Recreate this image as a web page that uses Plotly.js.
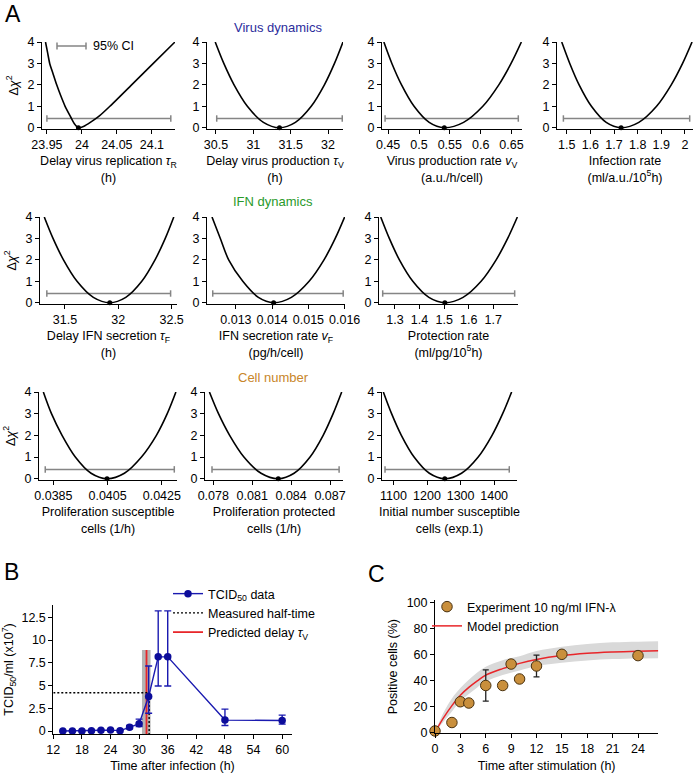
<!DOCTYPE html>
<html><head><meta charset="utf-8">
<script src="https://cdn.plot.ly/plotly-3.0.1.min.js"></script>
<style>html,body{margin:0;padding:0;background:#fff}</style>
</head><body><div id="chart" style="width:700px;height:776px"></div>
<script>
// ================= DATA =================
// Panel A: profile likelihoods (delta chi^2 vs parameter value)
const chi2Levels = [4, 3, 2, 1, 0.25, 0, 0.25, 1, 2, 3, 4];
const ciLevel = 0.43;

const tauR_x = [23.948, 23.951, 23.954, 23.959, 23.964, 23.9697, 23.976, 23.984, 23.989, 23.995, 24.003, 24.012, 24.025, 24.04, 24.071, 24.102, 24.133];
const tauR_chi2 = [4, 3.5, 3, 2.5, 2, 1.5, 1, 0.5, 0.2, 0, 0.07, 0.25, 0.55, 1, 2, 3, 4];
const tauR_ci = [23.95, 24.127];
const tauR_ticks = [23.95, 24, 24.05, 24.1];

const tauV_x = [30.49, 30.605, 30.742, 30.92, 31.135, 31.35, 31.563, 31.775, 31.951, 32.086, 32.2];
const tauV_ci = [30.51, 32.19];
const tauV_ticks = [30.5, 31, 31.5, 32];

const vV_x = [0.443, 0.456, 0.4717, 0.492, 0.5165, 0.541, 0.5723, 0.6035, 0.6294, 0.6493, 0.666];
const vV_ci = [0.445, 0.661];
const vV_ticks = [0.45, 0.5, 0.55, 0.6, 0.65];

const infRate_x = [1.479, 1.513, 1.5525, 1.6045, 1.667, 1.73, 1.805, 1.88, 1.942, 1.99, 2.03];
const infRate_ci = [1.486, 2.02];
const infRate_ticks = [1.5, 1.6, 1.7, 1.8, 1.9, 2];

const tauF_x = [31.306, 31.388, 31.486, 31.613, 31.766, 31.92, 32.07, 32.22, 32.344, 32.44, 32.52];
const tauF_ci = [31.33, 32.49];
const tauF_ticks = [31.5, 32, 32.5];

const vF_x = [0.01234, 0.01257, 0.0128, 0.01319, 0.01362, 0.01404, 0.01453, 0.01502, 0.01543, 0.01574, 0.0160];
const vF_ci = [0.01236, 0.01596];
const vF_ticks = [0.013, 0.014, 0.015, 0.016];

const prot_x = [1.242, 1.277, 1.318, 1.3725, 1.438, 1.503, 1.577, 1.6505, 1.7116, 1.7585, 1.798];
const prot_ci = [1.25, 1.787];
const prot_ticks = [1.3, 1.4, 1.5, 1.6, 1.7];

const prolS_x = [0.03813, 0.03843, 0.03882, 0.03931, 0.03989, 0.04048, 0.04112, 0.04175, 0.0423, 0.0427, 0.04302];
const prolS_ci = [0.0382, 0.04296];
const prolS_ticks = [0.0385, 0.0405, 0.0425];

const prolP_x = [0.0777, 0.0784, 0.07926, 0.08036, 0.08168, 0.08301, 0.08423, 0.08546, 0.08647, 0.08724, 0.0879];
const prolP_ci = [0.0779, 0.0877];
const prolP_ticks = [0.078, 0.081, 0.084, 0.087];

const initN_x = [1070, 1094.5, 1123.6, 1161.5, 1207, 1253, 1302.8, 1352.5, 1393.7, 1425.3, 1452];
const initN_ci = [1075, 1445];
const initN_ticks = [1100, 1200, 1300, 1400];

const chi2Ticks = [0, 1, 2, 3, 4];

// Panel B: TCID50 time course
const tcidTime = [14, 16, 18, 20, 22, 24, 26, 28, 30, 32, 34, 36, 48, 60];
const tcidMean = [0, 0, 0, 0.02, 0.08, 0.1, 0.04, 0.4, 0.8, 3.8, 8.15, 8.15, 1.2, 1.15];
const tcidErrPlus = [0, 0, 0, 0, 0, 0, 0, 0.2, 0.5, 3.35, 5.05, 5.05, 1.2, 0.6];
const tcidErrMinus = [0, 0, 0, 0, 0, 0, 0, 0.15, 0.3, 1.85, 3.2, 3.2, 0.6, 0.4];
const halfTime = 32.1;
const halfLevel = 4.2;
const tauVPredicted = 31.55;
const tauVBand = [30.6, 32.4];
const tauVBandTop = 8.9;
const bTicksX = [12, 18, 24, 30, 36, 42, 48, 54, 60];
const bTicksY = [0, 2.5, 5, 7.5, 10, 12.5];

// Panel C: IFN-lambda stimulation
const stimTime = [0, 2, 3, 4, 6, 8, 9, 10, 12, 15, 24];
const posCells = [1, 7.5, 23.5, 22.5, 36, 36, 52.5, 41, 51, 60, 59];
const posErr = [0, 0, 0, 0, 12, 0, 0, 0, 8.3, 0, 0];
const modelTime = [0, 1, 2, 3, 4, 5, 6, 8, 10, 12, 15, 18, 21, 24, 26.4];
const modelMean = [0, 11, 20.5, 28.5, 34.5, 39.5, 44, 49, 53, 56, 59, 60.8, 61.8, 62.4, 62.7];
const modelUpper = [0, 15, 26, 34, 40.5, 46, 50.5, 55.5, 58.5, 62.5, 65.8, 68, 69.2, 69.7, 70];
const modelLower = [0, 8, 16, 24, 29.5, 34.5, 39, 44, 47.5, 51, 53.5, 55.3, 56.3, 56.8, 57];
const cTicksX = [0, 3, 6, 9, 12, 15, 18, 21, 24];
const cTicksY = [0, 20, 40, 60, 80, 100];

// ================= LAYOUT HELPERS =================
const W = 700, H = 776;
const fx = p => p / W;
const fy = p => 1 - p / H;
const FONT = 'Liberation Sans, Arial, Helvetica, sans-serif';
const FS = 12.5;
const axisBase = {
  showline: true, linecolor: '#000', linewidth: 1, ticks: 'outside', ticklen: 4,
  tickcolor: '#000', tickwidth: 1, showgrid: false, zeroline: false, fixedrange: true,
  tickfont: {size: 12.5, color: '#000', family: FONT}
};
const rowsPx = [[42, 129], [217, 304], [392, 480]];
const tau = s => '<i>τ</i><sub>' + s + '</sub>';

const panelA = [
  {x: tauR_x, y: tauR_chi2, ci: tauR_ci, ticks: tauR_ticks, range: [23.943, 24.133], dom: [42, 175], row: 0, smooth: 0.5,
   title: 'Delay virus replication ' + tau('R') + '<br>(h)'},
  {x: tauV_x, y: chi2Levels, ci: tauV_ci, ticks: tauV_ticks, range: [30.38, 32.2], dom: [207, 343], row: 0,
   title: 'Delay virus production ' + tau('V') + '<br>(h)'},
  {x: vV_x, y: chi2Levels, ci: vV_ci, ticks: vV_ticks, range: [0.44, 0.667], dom: [382, 522], row: 0,
   title: 'Virus production rate <i>v</i><sub>V</sub><br>(a.u./h/cell)'},
  {x: infRate_x, y: chi2Levels, ci: infRate_ci, ticks: infRate_ticks, range: [1.459, 2.034], dom: [557, 693], row: 0,
   title: 'Infection rate<br>(ml/a.u./10<sup>5</sup>h)'},
  {x: tauF_x, y: chi2Levels, ci: tauF_ci, ticks: tauF_ticks, range: [31.266, 32.55], dom: [40, 177], row: 1,
   title: 'Delay IFN secretion ' + tau('F') + '<br>(h)'},
  {x: vF_x, y: chi2Levels, ci: vF_ci, ticks: vF_ticks, range: [0.012202, 0.01601], dom: [207, 345], row: 1,
   title: 'IFN secretion rate <i>v</i><sub>F</sub><br>(pg/h/cell)'},
  {x: prot_x, y: chi2Levels, ci: prot_ci, ticks: prot_ticks, range: [1.235, 1.8005], dom: [379, 518], row: 1,
   title: 'Protection rate<br>(ml/pg/10<sup>5</sup>h)'},
  {x: prolS_x, y: chi2Levels, ci: prolS_ci, ticks: prolS_ticks, range: [0.03797, 0.04306], dom: [39, 177], row: 2,
   title: 'Proliferation susceptible<br>cells (1/h)'},
  {x: prolP_x, y: chi2Levels, ci: prolP_ci, ticks: prolP_ticks, range: [0.07736, 0.088], dom: [205, 343], row: 2,
   title: 'Proliferation protected<br>cells (1/h)'},
  {x: initN_x, y: chi2Levels, ci: initN_ci, ticks: initN_ticks, range: [1066, 1468], dom: [382, 517], row: 2,
   title: 'Initial number susceptible<br>cells (exp.1)'}
];

const traces = [];
const layout = {
  width: W, height: H, margin: {l: 0, r: 0, t: 0, b: 0},
  paper_bgcolor: '#fff', plot_bgcolor: 'rgba(0,0,0,0)',
  font: {family: FONT, size: FS, color: '#000'},
  showlegend: true, annotations: [], shapes: []
};
const sfx = n => (n === 1 ? '' : String(n));

panelA.forEach((p, i) => {
  const n = i + 1;
  const xa = 'x' + sfx(n), ya = 'y' + sfx(n);
  traces.push({type: 'scatter', mode: 'lines', x: p.ci, y: [ciLevel, ciLevel], xaxis: xa, yaxis: ya,
    line: {color: '#858585', width: 1.5}, showlegend: false, hoverinfo: 'skip',
    error_y: {type: 'constant', value: 0.15, width: 0, color: '#858585', thickness: 1.5}});
  traces.push({type: 'scatter', mode: 'lines', x: p.x, y: p.y, xaxis: xa, yaxis: ya,
    line: {color: '#000', width: 1.6, shape: 'spline', smoothing: p.smooth || 0.9}, showlegend: false, hoverinfo: 'skip'});
  const imin = p.y.indexOf(Math.min(...p.y));
  traces.push({type: 'scatter', mode: 'markers', x: [p.x[imin]], y: [p.y[imin]], xaxis: xa, yaxis: ya,
    marker: {color: '#000', size: 5}, showlegend: false, hoverinfo: 'skip', cliponaxis: false});
  const r = rowsPx[p.row];
  layout['xaxis' + sfx(n)] = Object.assign({}, axisBase, {
    domain: [fx(p.dom[0]), fx(p.dom[1])], range: p.range, tickvals: p.ticks, anchor: ya,
    title: {text: p.title, font: {size: FS, family: FONT}, standoff: 5}
  });
  const yax = Object.assign({}, axisBase, {
    domain: [fy(r[1]), fy(r[0])], range: [-0.06, 4], tickvals: chi2Ticks, anchor: xa
  });
  if (p.dom[0] < 100) {
    yax.title = {text: 'Δ<i>χ</i><sup>2</sup>', font: {size: FS, family: FONT}, standoff: 6};
  }
  layout['yaxis' + sfx(n)] = yax;
});

// ---------- Panel B ----------
const bx = 'x11', by = 'y11';
const bYRange = [-0.33, 13.85];
traces.push({type: 'scatter', mode: 'lines', xaxis: bx, yaxis: by,
  x: [tauVBand[0], tauVBand[1], tauVBand[1], tauVBand[0], tauVBand[0]],
  y: [bYRange[0], bYRange[0], tauVBandTop, tauVBandTop, bYRange[0]],
  fill: 'toself', fillcolor: '#b4b4b4', line: {width: 0}, showlegend: false, hoverinfo: 'skip'});
traces.push({type: 'scatter', mode: 'lines', xaxis: bx, yaxis: by,
  x: [tauVPredicted, tauVPredicted], y: [bYRange[0], tauVBandTop],
  line: {color: '#e8262a', width: 1.8}, name: 'Predicted delay ' + tau('V'), legendrank: 3, legend: 'legend'});
traces.push({type: 'scatter', mode: 'lines', xaxis: bx, yaxis: by,
  x: [12, halfTime, halfTime], y: [halfLevel, halfLevel, bYRange[0]],
  line: {color: '#000', width: 1.4, dash: '2px,2px'}, name: 'Measured half-time', legendrank: 2, legend: 'legend'});
traces.push({type: 'scatter', mode: 'lines+markers', xaxis: bx, yaxis: by,
  x: tcidTime, y: tcidMean,
  error_y: {type: 'data', symmetric: false, array: tcidErrPlus, arrayminus: tcidErrMinus,
    color: '#1a1ab0', thickness: 1.4, width: 3.5},
  line: {color: '#1a1ab0', width: 1.4}, marker: {color: '#0c0c9a', size: 7.5},
  name: 'TCID<sub>50</sub> data', legendrank: 1, legend: 'legend', cliponaxis: false});
layout.xaxis11 = Object.assign({}, axisBase, {domain: [fx(53.3), fx(291.7)], range: [12, 62], tickvals: bTicksX,
  anchor: by, title: {text: 'Time after infection (h)', font: {size: FS, family: FONT}, standoff: 5}});
layout.yaxis11 = Object.assign({}, axisBase, {domain: [fy(734), fy(605)], range: bYRange, tickvals: bTicksY,
  ticktext: bTicksY.map(String), anchor: bx,
  title: {text: 'TCID<sub>50</sub>/ml (x10<sup>7</sup>)', font: {size: FS, family: FONT}, standoff: 6}});
layout.legend = {x: fx(168), y: fy(579), xanchor: 'left', yanchor: 'top', bgcolor: 'rgba(0,0,0,0)',
  font: {size: FS, family: FONT}, traceorder: 'normal', itemwidth: 30};

// ---------- Panel C ----------
const cx = 'x12', cy = 'y12';
traces.push({type: 'scatter', mode: 'lines', xaxis: cx, yaxis: cy, x: modelTime, y: modelLower,
  line: {width: 0, shape: 'spline'}, showlegend: false, hoverinfo: 'skip'});
traces.push({type: 'scatter', mode: 'lines', xaxis: cx, yaxis: cy, x: modelTime, y: modelUpper,
  line: {width: 0, shape: 'spline'}, fill: 'tonexty', fillcolor: '#d9d9d9', showlegend: false, hoverinfo: 'skip'});
traces.push({type: 'scatter', mode: 'lines', xaxis: cx, yaxis: cy, x: modelTime, y: modelMean,
  line: {color: '#e8262a', width: 1.5, shape: 'spline'}, name: 'Model prediction', legend: 'legend2', legendrank: 2});
traces.push({type: 'scatter', mode: 'markers', xaxis: cx, yaxis: cy, x: stimTime, y: posCells,
  error_y: {type: 'data', array: posErr, color: '#222', thickness: 1.3, width: 3},
  marker: {color: '#c98f3c', size: 10.5, line: {color: '#4a3210', width: 1}},
  name: 'Experiment 10 ng/ml IFN-λ', legend: 'legend2', legendrank: 1, cliponaxis: false});
layout.xaxis12 = Object.assign({}, axisBase, {domain: [fx(435), fx(658.3)], range: [0, 26.4], tickvals: cTicksX,
  anchor: cy, title: {text: 'Time after stimulation (h)', font: {size: FS, family: FONT}, standoff: 5}});
layout.yaxis12 = Object.assign({}, axisBase, {domain: [fy(733.3), fy(600)], range: [-0.8, 101.8], tickvals: cTicksY,
  anchor: cx, title: {text: 'Positive cells (%)', font: {size: FS, family: FONT}, standoff: 6}});
layout.legend2 = {x: fx(427), y: fy(592), xanchor: 'left', yanchor: 'top', bgcolor: 'rgba(0,0,0,0)',
  font: {size: FS, family: FONT}, traceorder: 'normal', itemwidth: 30};

// ---------- Annotations ----------
const ann = (text, x, y, size, color, xanchor) => ({text, x: fx(x), y: fy(y), xref: 'paper', yref: 'paper',
  showarrow: false, xanchor: xanchor || 'center', yanchor: 'middle', font: {size, color, family: FONT}});
layout.annotations.push(ann('A', 13, 14, 23, '#000'));
layout.annotations.push(ann('B', 11, 572, 23, '#000'));
layout.annotations.push(ann('C', 376, 574, 23, '#000'));
layout.annotations.push(ann('Virus dynamics', 278, 28, 13, '#2c2c9c'));
layout.annotations.push(ann('IFN dynamics', 273, 202, 13, '#2a9a2a'));
layout.annotations.push(ann('Cell number', 273, 377, 13, '#c8862a'));
layout.annotations.push(ann('95% CI', 91, 46, FS, '#000', 'left'));
// 95% CI key
const seg = (x0, y0, x1, y1) => ({type: 'line', xref: 'paper', yref: 'paper', x0: fx(x0), y0: fy(y0), x1: fx(x1), y1: fy(y1),
  line: {color: '#858585', width: 1.5}});
layout.shapes.push(seg(57, 46, 86, 46), seg(57, 42.5, 57, 49.5), seg(86, 42.5, 86, 49.5));

Plotly.newPlot('chart', traces, layout, {staticPlot: true, displayModeBar: false});
</script>
</body></html>
